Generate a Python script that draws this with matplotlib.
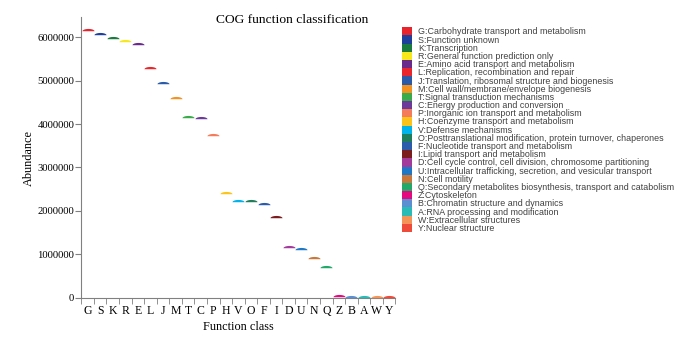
import numpy as np
import matplotlib.pyplot as plt
from matplotlib.patches import Rectangle
from matplotlib.path import Path

# 类别与丰度
classes = ['G', 'S', 'K', 'R', 'E', 'L', 'J', 'M', 'T', 'C', 'P', 'H', 'V',
           'O', 'F', 'I', 'D', 'U', 'N', 'Q', 'Z', 'B', 'A', 'W', 'Y']
abundance = [6170000, 6080000, 5980000, 5920000, 5850000, 5300000, 4950000,
             4590000, 4160000, 4130000, 3760000, 2410000, 2230000, 2220000,
             2170000, 1860000, 1160000, 1130000, 910000, 710000, 30000,
             25000, 12000, 12000, 8000]
descriptions = [
    'Carbohydrate transport and metabolism',
    'Function unknown',
    'Transcription',
    'General function prediction only',
    'Amino acid transport and metabolism',
    'Replication, recombination and repair',
    'Translation, ribosomal structure and biogenesis',
    'Cell wall/membrane/envelope biogenesis',
    'Signal transduction mechanisms',
    'Energy production and conversion',
    'Inorganic ion transport and metabolism',
    'Coenzyme transport and metabolism',
    'Defense mechanisms',
    'Posttranslational modification, protein turnover, chaperones',
    'Nucleotide transport and metabolism',
    'Lipid transport and metabolism',
    'Cell cycle control, cell division, chromosome partitioning',
    'Intracellular trafficking, secretion, and vesicular transport',
    'Cell motility',
    'Secondary metabolites biosynthesis, transport and catabolism',
    'Cytoskeleton',
    'Chromatin structure and dynamics',
    'RNA processing and modification',
    'Extracellular structures',
    'Nuclear structure',
]
colors = ['#e8232b', '#1f3f9c', '#1b7a3e', '#f7e81c', '#6a2a8c', '#e9262c',
          '#2a5ba8', '#f39121', '#3aab4a', '#6b3a9b', '#f47c5a', '#fcc41a',
          '#00b3ea', '#1f7d5c', '#2b5bab', '#7b1c1e', '#a23b9b', '#1f78c6',
          '#c9773a', '#22a96a', '#e6087f', '#5b8fd2', '#2bbbb6', '#f59459',
          '#ee4b3b']

plt.rcParams['font.family'] = ['Liberation Serif', 'DejaVu Serif']

W, H = 683, 337
fig = plt.figure(figsize=(W / 100, H / 100), dpi=100)
ax = fig.add_axes([0.119, 0.1166, 0.46, 0.832])

# 半椭圆标记
t = np.linspace(0, np.pi, 20)
verts = list(zip(np.cos(t), 0.38 * np.sin(t) - 0.12)) + [(-1, -0.12), (1, -0.12)]
marker = Path(verts + [verts[0]], closed=True)

x = np.arange(len(classes))
for i in range(len(classes)):
    ax.scatter(x[i], abundance[i], marker=marker, s=75, color=colors[i],
               linewidths=0, zorder=3)

ax.set_xlim(-0.5, len(classes) - 0.5)
ax.set_ylim(0, 6460000)
ax.set_xticks(x)
ax.set_xticklabels(classes, fontsize=8.5)
ax.set_xticks(np.arange(-0.5, len(classes)), minor=True)
ax.tick_params(axis='x', which='major', length=0, pad=5)
ax.tick_params(axis='x', which='minor', length=4, color='#808080')
ax.set_yticks([0, 1000000, 2000000, 3000000, 4000000, 5000000, 6000000])
ax.set_yticklabels(['0', '1000000', '2000000', '3000000', '4000000',
                    '5000000', '6000000'], fontsize=7.7)
ax.tick_params(axis='y', length=4, color='#808080', pad=1)

for s in ['top', 'right']:
    ax.spines[s].set_visible(False)
for s in ['left', 'bottom']:
    ax.spines[s].set_color('#808080')

ax.set_xlabel('Function class', fontsize=8.8, labelpad=3)
ax.set_ylabel('Abundance', fontsize=8.8, labelpad=2)
fig.text(0.428, 0.94, 'COG function classification', fontsize=9.7,
         ha='center', va='center')

# 图例（手工绘制色块和文字）
row_h = 8.19
top = 27.3
for i, (c, d) in enumerate(zip(classes, descriptions)):
    y0 = H - top - (i + 1) * row_h
    fig.patches.append(Rectangle((402 / W, y0 / H), 10 / W, row_h / H,
                                 transform=fig.transFigure, facecolor=colors[i],
                                 edgecolor='none'))
    fig.text(418 / W, (y0 + row_h / 2 - 3.0) / H, f'{c}:{d}', fontsize=6.4,
             family='Liberation Sans', color='#404040', ha='left',
             va='baseline')

fig.savefig('out.png', dpi=100)
